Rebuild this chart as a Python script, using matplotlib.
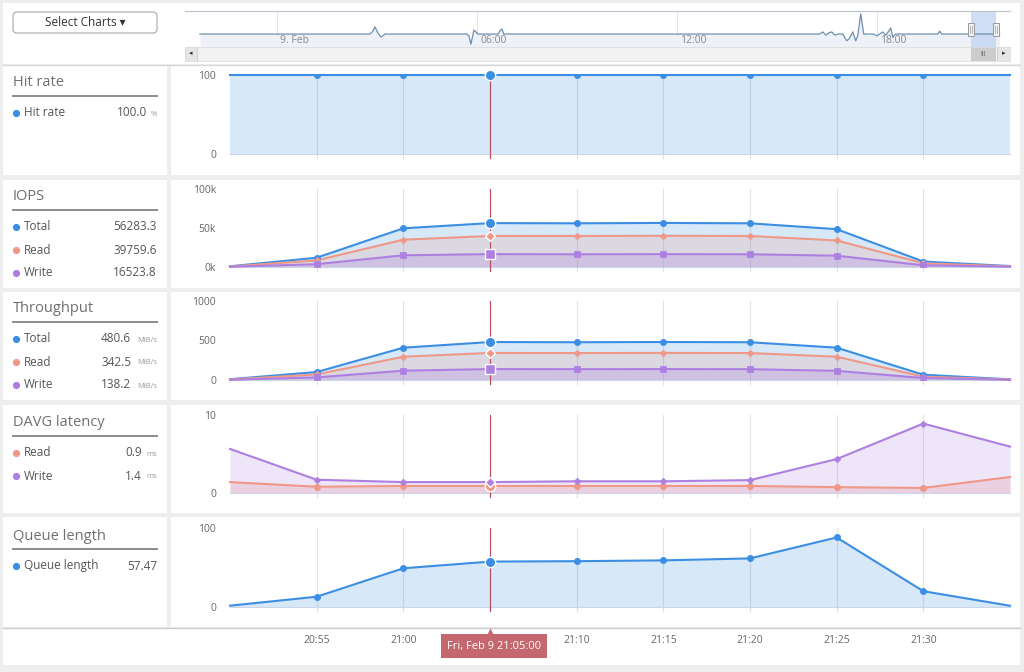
import numpy as np
import matplotlib.pyplot as plt
from matplotlib.patches import Rectangle, FancyBboxPatch
from matplotlib import transforms

plt.rcParams['font.family'] = ['Open Sans', 'DejaVu Sans']

W, H = 1024, 672

# Section: data (minutes after 20:50, Fri Feb 9)
# ---
minutes = np.array([0, 5, 10, 15, 20, 25, 30, 35, 40, 45])
tick_minutes = [5, 10, 15, 20, 25, 30, 35, 40]
tick_labels = ['20:55', '21:00', '21:05', '21:10', '21:15', '21:20', '21:25', '21:30']
hover_idx = 3
hover_label = 'Fri, Feb 9 21:05:00'

hit_rate = [100, 100, 100, 100.0, 100, 100, 100, 100, 100, 100]
iops_total = [900, 11900, 49600, 56283.3, 56000, 56500, 56000, 48500, 7000, 1200]
iops_read = [600, 8500, 35000, 39759.6, 39800, 40000, 39800, 34000, 4800, 800]
iops_write = [300, 3600, 15000, 16523.8, 16300, 16500, 16300, 14500, 2200, 400]
thr_total = [10, 101, 409, 480.6, 478, 481, 478, 409, 67, 8]
thr_read = [7, 70, 295, 342.5, 341, 343, 341, 295, 42, 5]
thr_write = [3, 33, 118, 138.2, 137, 138, 137, 116, 25, 3]
lat_read = [1.4, 0.8, 0.9, 0.9, 0.9, 0.9, 0.9, 0.75, 0.65, 2.05]
lat_write = [5.65, 1.7, 1.4, 1.4, 1.5, 1.5, 1.65, 4.35, 8.9, 5.95]
queue = [1.7, 13, 49, 57.47, 58, 59, 61.5, 88, 20, 1.6]

# navigator overview (hours from Feb 9 00:00)
nav_hours = [-2.31, 2.79, 2.88, 2.94, 3.03, 3.12, 3.18, 3.24,
             5.70, 5.76, 5.82, 5.88, 5.91, 5.97, 6.03,
             6.63, 6.69, 6.75, 6.81,
             16.29, 16.38, 16.47, 16.56, 16.65, 16.74, 16.83,
             16.98, 17.10, 17.19, 17.28, 17.37, 17.43, 17.52, 17.61,
             17.91, 18.00, 18.09, 18.18, 18.27, 18.36, 18.42, 18.48, 18.57,
             19.83, 19.89, 19.95, 21.69]
nav_values = [36, 36, 44, 56, 39, 28, 31, 36,
              36, 31, 8, 33, 47, 42, 36,
              36, 44, 50, 36,
              36, 42, 33, 39, 42, 33, 36,
              36, 17, 25, 42, 17, 31, 92, 36,
              36, 31, 36, 42, 33, 44, 53, 28, 36,
              36, 44, 36, 36]
nav_ticks = [0, 6, 12, 18]
nav_tick_labels = ['9. Feb', '06:00', '12:00', '18:00']
sel_start, sel_end = 20 + 50 / 60, 21 + 35 / 60

BLUE = '#3b8ee3'
RED = '#ef9888'
PURPLE = '#ad7fe1'

# Section: figure and pixel helpers
# ---
fig = plt.figure(figsize=(W / 100, H / 100), dpi=100, facecolor='#eeeeee')


def px_axes(x0, y0, x1, y1):
    return fig.add_axes([x0 / W, 1 - y1 / H, (x1 - x0) / W, (y1 - y0) / H])


bg = px_axes(0, 0, W, H)
bg.set_xlim(0, W)
bg.set_ylim(H, 0)
bg.axis('off')


def box(x0, y0, x1, y1, **kw):
    bg.add_patch(Rectangle((x0, y0), x1 - x0, y1 - y0, lw=0, **kw))


box(3, 3, 1020, 64, fc='white')
bg.plot([3, 1020], [64.5, 64.5], color='#d8d8d8', lw=1)
box(3, 628, 1020, 665, fc='white')
bg.plot([3, 1020], [628, 628], color='#cccccc', lw=1)

bg.add_patch(FancyBboxPatch((13, 12), 144, 21, boxstyle='round,pad=0,rounding_size=4',
                            fc='white', ec='#a8a8a8', lw=0.8))
bg.text(85, 22.5, 'Select Charts \u25BE', ha='center', va='center', fontsize=8.5, color='#333333')

# Section: navigator
# ---
nav = px_axes(185, 11, 1010, 47)
nav.set_xlim(-2.76, 22.0)
nav.set_ylim(0, 100)
nav.set_facecolor('none')
nav.fill_between(nav_hours, 0, nav_values, color='#eef2f8', lw=0)
nav.plot(nav_hours, nav_values, color='#6f8fae', lw=0.9)
for h, lbl in zip(nav_ticks, nav_tick_labels):
    nav.axvline(h, color='#e4e4e4', lw=0.8, zorder=0)
    nav.annotate(lbl, (h, 17), xytext=(2.5, 0), textcoords='offset points',
                 va='center', ha='left', fontsize=7.5, color='#888888')
nav.axvspan(sel_start, sel_end, color='#c3d6f2', alpha=0.8, lw=0)
hw = 3.0 / 33.33
for s in (sel_start, sel_end):
    nav.add_patch(Rectangle((s - hw, 31), 2 * hw, 36, fc='#f2f2f2', ec='#999999', lw=0.7, zorder=5))
    for d in (-0.3, 0.3):
        nav.plot([s + d * hw, s + d * hw], [40, 58], color='#999999', lw=0.5, zorder=6)
for k, sp in nav.spines.items():
    sp.set_visible(k == 'top')
nav.spines['top'].set_color('#b8c2cc')
nav.spines['top'].set_linewidth(0.8)
nav.set_xticks([])
nav.set_yticks([])

sc = px_axes(185, 47, 1010, 61)
sc.set_xlim(nav.get_xlim())
sc.set_ylim(0, 1)
sc.set_facecolor('#f2f2f2')
for sp in sc.spines.values():
    sp.set_color('#dddddd')
    sp.set_linewidth(0.6)
sc.set_xticks([])
sc.set_yticks([])
sc.add_patch(Rectangle((0, 0), 12 / 825, 1, transform=sc.transAxes, fc='#e6e6e6', ec='#cccccc', lw=0.6))
sc.add_patch(Rectangle((1 - 13 / 825, 0), 13 / 825, 1, transform=sc.transAxes, fc='#e6e6e6', ec='#cccccc', lw=0.6))
sc.text(6 / 825, 0.5, '\u25C2', transform=sc.transAxes, ha='center', va='center', fontsize=5, color='#333333')
sc.text(1 - 6.5 / 825, 0.5, '\u25B8', transform=sc.transAxes, ha='center', va='center', fontsize=5, color='#333333')
sc.axvspan(sel_start, sel_end, color='#cccccc', lw=0)
sc.text((sel_start + sel_end) / 2, 0.5, 'III', ha='center', va='center', fontsize=5, color='#666666')

# Section: chart rows
# ---
rows = [
    dict(title='Hit rate', panel=(66, 175), plot=(75, 154), ymax=100,
         yticks=[0, 100], ytl=['0', '100'], fmt='{:.1f}', unit='%',
         series=[('Hit rate', hit_rate, BLUE, 'o', 0.2)]),
    dict(title='IOPS', panel=(180, 288), plot=(189, 267), ymax=100000,
         yticks=[0, 50000, 100000], ytl=['0k', '50k', '100k'], fmt='{:.1f}', unit='',
         series=[('Total', iops_total, BLUE, 'o', 0.2), ('Read', iops_read, RED, 'D', 0.2),
                 ('Write', iops_write, PURPLE, 's', 0.25)]),
    dict(title='Throughput', panel=(292, 400), plot=(301, 380), ymax=1000,
         yticks=[0, 500, 1000], ytl=['0', '500', '1000'], fmt='{:.1f}', unit='MiB/s',
         series=[('Total', thr_total, BLUE, 'o', 0.2), ('Read', thr_read, RED, 'D', 0.2),
                 ('Write', thr_write, PURPLE, 's', 0.25)]),
    dict(title='DAVG latency', panel=(405, 513), plot=(415, 493), ymax=10,
         yticks=[0, 10], ytl=['0', '10'], fmt='{:.1f}', unit='ms',
         series=[('Read', lat_read, RED, 'o', 0.25), ('Write', lat_write, PURPLE, 'D', 0.2)]),
    dict(title='Queue length', panel=(517, 627), plot=(528, 607), ymax=100,
         yticks=[0, 100], ytl=['0', '100'], fmt='{:.2f}', unit='',
         series=[('Queue length', queue, BLUE, 'o', 0.2)]),
]
unit_w = {'%': 8, 'MiB/s': 24, 'ms': 13, '': 0}
ms_reg = {'o': 4.5, 'D': 3.4, 's': 4.3}
ms_hov = {'o': 7.5, 'D': 5.2, 's': 6.8}
mark_idx = [1, 2, 4, 5, 6, 7, 8]

for r in rows:
    p0, p1 = r['panel']
    top, bot = r['plot']
    box(3, p0, 167, p1, fc='white')
    box(171, p0, 1020, p1, fc='white')

    # left legend panel
    bg.text(13, top + 8, r['title'], fontsize=10.5, color='#707070', va='center', ha='left')
    bg.plot([13, 157], [top + 21, top + 21], color='#8c8c8c', lw=1.4)
    for i, (name, vals, col, mk, fa) in enumerate(r['series']):
        y = top + 38 + 23 * i
        bg.plot([16], [y], 'o', ms=5.2, color=col, mec='none')
        bg.text(24, y, name, fontsize=8.5, color='#555555', va='center', ha='left')
        uw = unit_w[r['unit']]
        bg.text(157 - uw - (2 if uw else 0), y, r['fmt'].format(vals[hover_idx]),
                fontsize=8.5, color='#555555', va='center', ha='right')
        if r['unit']:
            bg.text(157, y + 1, r['unit'], fontsize=5.5, color='#999999', va='center', ha='right')

    # chart
    ax = px_axes(230, top, 1010, bot)
    ax.set_xlim(0, 45)
    ax.set_ylim(0, r['ymax'])
    ax.set_facecolor('none')
    for k in ('left', 'top', 'right'):
        ax.spines[k].set_visible(False)
    ax.spines['bottom'].set_color('#ccd6eb')
    ax.spines['bottom'].set_linewidth(0.8)
    ax.set_xticks(tick_minutes)
    ax.set_xticklabels([])
    ax.tick_params(axis='x', length=3.5, width=0.8, color='#e0e0e0')
    ax.grid(axis='x', color='#e2e2e2', lw=0.8)
    ax.set_axisbelow(True)
    ax.set_yticks(r['yticks'])
    ax.set_yticklabels(r['ytl'])
    ax.tick_params(axis='y', length=0, pad=10, labelsize=7.5, labelcolor='#666666')

    for name, vals, col, mk, fa in r['series']:
        ax.fill_between(minutes, 0, vals, color=col, alpha=fa, lw=0, zorder=1)
    ext = 4.0 / (bot - top)
    ax.axvline(minutes[hover_idx], ymin=-ext, ymax=1, color='#b64a5a', lw=0.8,
               clip_on=False, zorder=3.5)
    for name, vals, col, mk, fa in r['series']:
        v = np.asarray(vals, dtype=float)
        ax.plot(minutes, v, color=col, lw=1.5, zorder=3, clip_on=False, solid_joinstyle='round')
        ax.plot(minutes[mark_idx], v[mark_idx], ls='none', marker=mk, ms=ms_reg[mk],
                color=col, mec=col, mew=0.5, zorder=4)
        ax.plot([minutes[hover_idx]], [v[hover_idx]], ls='none', marker=mk, ms=ms_hov[mk],
                color=col, mec='white', mew=1.0, zorder=5, clip_on=False)

# Section: bottom time axis and tooltip
# ---
axb = px_axes(230, 633, 1010, 634)
axb.set_xlim(0, 45)
axb.set_facecolor('none')
for sp in axb.spines.values():
    sp.set_visible(False)
axb.set_yticks([])
axb.set_xticks(tick_minutes)
axb.set_xticklabels(tick_labels)
axb.tick_params(axis='x', length=0, pad=1, labelsize=7.5, labelcolor='#666666')

trans = axb.get_xaxis_transform()
t_tip = transforms.offset_copy(trans, fig=fig, x=4, y=-12, units='dots')
axb.text(minutes[hover_idx], 0, hover_label, transform=t_tip, ha='center', va='center',
         fontsize=8, color='white', zorder=10,
         bbox=dict(boxstyle='square,pad=0.55', fc='#c4676e', ec='none'))
t_arr = transforms.offset_copy(trans, fig=fig, x=0, y=2, units='dots')
axb.plot([minutes[hover_idx]], [0], marker='^', ms=6, color='#c4676e', mec='none',
         transform=t_arr, clip_on=False, zorder=9)

fig.savefig('out.png', dpi=100, facecolor=fig.get_facecolor())
